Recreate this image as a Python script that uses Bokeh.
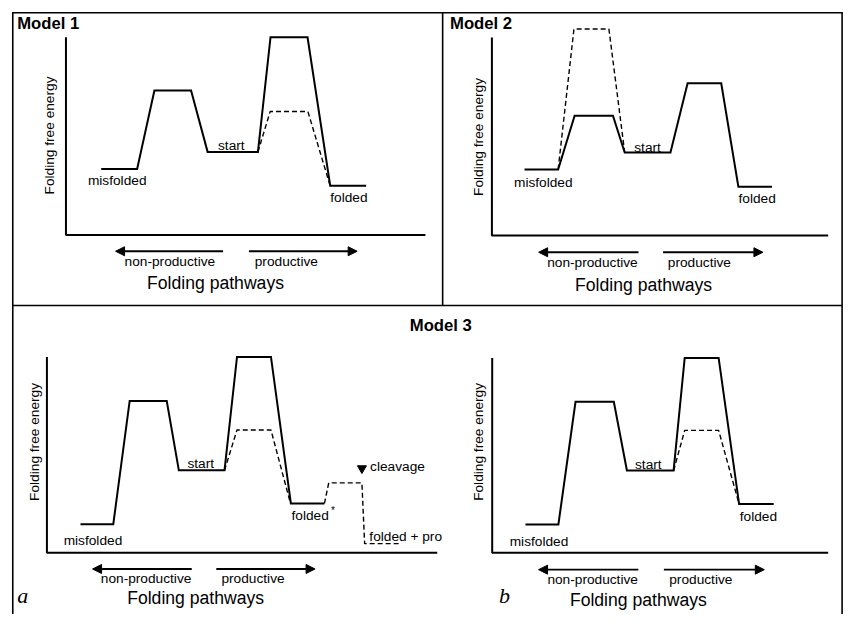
import math
from bokeh.plotting import figure
from bokeh.models import Range1d, Arrow, NormalHead
from bokeh.core.properties import value
from bokeh.embed import file_html
from bokeh.resources import INLINE

# ---------------- data: energy profiles (axis units: 0..100 on both axes) ----
# Model 1
m1_x      = [9.8, 19.8, 24.6, 34.8, 39.4, 53.4, 56.9, 67.2, 73.5, 83.5]
m1_solid  = [33.4, 33.4, 73.1, 73.1, 42.0, 42.0, 100.0, 100.0, 24.9, 24.9]
m1_dash_x = [53.4, 56.8, 67.3, 73.3]
m1_dash   = [42.0, 62.4, 62.4, 26.0]
# Model 2
m2_x      = [9.7, 19.7, 24.6, 36.0, 39.5, 53.1, 58.2, 68.2, 73.3, 83.3]
m2_solid  = [33.4, 33.4, 60.5, 60.5, 41.9, 41.9, 76.9, 76.9, 24.7, 24.7]
m2_dash_x = [19.7, 24.4, 34.8, 39.5]
m2_dash   = [33.4, 104.3, 104.3, 41.9]
# Model 3 (a)
m3a_x      = [8.6, 17.0, 21.2, 30.7, 33.8, 45.5, 48.7, 57.4, 62.5, 71.1]
m3a_solid  = [14.6, 14.6, 77.5, 77.5, 42.1, 42.1, 100.0, 100.0, 25.2, 25.2]
m3a_dash_x = [45.5, 48.7, 57.4, 62.3]
m3a_dash   = [42.1, 62.7, 62.7, 26.0]
m3a_pro_x  = [71.1, 72.2, 80.7, 81.4, 90.4]
m3a_pro    = [25.2, 35.7, 35.7, 4.7, 4.7]
# Model 3 (b)
m3b_x      = [9.9, 19.7, 24.8, 36.2, 40.1, 54.0, 57.3, 67.4, 73.5, 83.8]
m3b_solid  = [14.5, 14.5, 77.5, 77.5, 42.2, 42.2, 100.0, 100.0, 25.0, 25.0]
m3b_dash_x = [54.0, 57.3, 67.4, 73.5]
m3b_dash   = [42.2, 62.8, 62.8, 25.0]

state_labels = ["misfolded", "start", "folded"]
dir_labels = ["non-productive", "productive"]
x_title = "Folding pathways"
y_title = "Folding free energy"
model_titles = ["Model 1", "Model 2", "Model 3"]
panel_letters = ["a", "b"]

# ---------------- page / layout ----------------
W, H = 846, 614
# the frame shows the reference sheet (862 x 630 units), slightly scaled
X0, X1, Y0, Y1 = 0.0, 862.0, 0.0, 630.0
SANS = value("Liberation Sans")
FS = 13.7          # label font size
BL = 0.27          # baseline correction (fraction of font size)

p = figure(width=W, height=H, x_range=Range1d(X0, X1), y_range=Range1d(Y1, Y0),
           x_axis_type=None, y_axis_type=None, toolbar_location=None,
           output_backend="svg", min_border=0, outline_line_color=None,
           background_fill_color="white", border_fill_color="white")
p.grid.visible = False

# panel frames (sheet coordinates)
p.multi_line(xs=[[12, 858], [12.5, 12.5], [857.5, 857.5], [450.5, 450.5], [12, 858]],
             ys=[[12.5, 12.5], [12, 640], [12, 640], [12, 313], [313, 313]],
             line_color="black", line_width=1.6)

p.text(x=[17, 458, 417], y=[28 - BL * 17, 28 - BL * 17, 338 - BL * 17], text=model_titles,
       text_font=SANS, text_font_style="bold", text_font_size=value("16.7px"),
       text_baseline="alphabetic", text_align="left", text_color="black")
p.text(x=[17, 508], y=[616 - BL * 22, 616 - BL * 22], text=panel_letters,
       text_font=value("Liberation Serif"), text_font_style="italic",
       text_font_size=value("22px"), text_baseline="alphabetic", text_color="black")

panels = [
    dict(name="m1", xs=m1_x, ys=m1_solid, dashes=[(m1_dash_x, m1_dash)],
         ox=66.7, oy=240.5, lx=366.3, ly=202.8,
         arrows=(43.7, 13.8, 50.9, 81.0), ady=16.8, np_c=28.9, pr_c=61.3, ldy=31.2,
         fp_c=41.6, fpdy=54.5, yldx=16.7, ylmid=50.3,
         offs=[(-2, 16), (-1.5, -2.5), (0.7, 16)]),
    dict(name="m2", xs=m2_x, ys=m2_solid, dashes=[(m2_dash_x, m2_dash)],
         ox=500.7, oy=241.2, lx=342.6, ly=203.2,
         arrows=(43.6, 13.9, 50.9, 80.6), ady=17.1, np_c=29.9, pr_c=61.7, ldy=31.8,
         fp_c=45.1, fpdy=55.5, yldx=14.0, ylmid=49.8,
         offs=[(2, 16.7), (0, -2), (2, 16)]),
    dict(name="m3a", xs=m3a_x, ys=m3a_solid,
         dashes=[(m3a_dash_x, m3a_dash), (m3a_pro_x, m3a_pro)],
         ox=47.3, oy=566.7, lx=397.7, ly=201.0,
         arrows=(37.1, 11.7, 43.4, 68.7), ady=16.6, np_c=25.4, pr_c=52.8, ldy=30.0,
         fp_c=38.1, fpdy=51.6, yldx=12.3, ylmid=56.6,
         offs=[(-4, 20), (-1, -3), (2.5, 16)]),
    dict(name="m3b", xs=m3b_x, ys=m3b_solid, dashes=[(m3b_dash_x, m3b_dash)],
         ox=501.0, oy=566.7, lx=342.3, ly=200.0,
         arrows=(43.5, 13.8, 51.1, 81.0), ady=17.3, np_c=29.9, pr_c=62.1, ldy=31.0,
         fp_c=43.5, fpdy=53.3, yldx=14.3, ylmid=56.9,
         offs=[(-3, 20.6), (-2, -2.3), (2, 16)]),
]

for g in panels:
    n = g["name"]
    sx, sy = g["lx"] / 100.0, g["ly"] / 100.0
    p.extra_x_ranges[n] = Range1d((X0 - g["ox"]) / sx, (X1 - g["ox"]) / sx)
    p.extra_y_ranges[n] = Range1d((g["oy"] - Y1) / sy, (g["oy"] - Y0) / sy)
    kw = dict(x_range_name=n, y_range_name=n)

    # axes (L-shape)
    p.line([0, 0, 100], [100, 0, 0], line_color="black", line_width=2, **kw)
    # energy profile
    p.line(g["xs"], g["ys"], line_color="black", line_width=2, line_join="miter", **kw)
    for dx_, dy_ in g["dashes"]:
        p.line(dx_, dy_, line_color="black", line_width=1.4, line_dash="5 3", **kw)

    # state labels anchored to plateaus
    xs, ys = g["xs"], g["ys"]
    anchors = [((xs[0] + xs[1]) / 2, ys[0]), ((xs[4] + xs[5]) / 2, ys[4]),
               ((xs[8] + xs[9]) / 2, ys[8])]
    lx_ = [a[0] + o[0] / sx for a, o in zip(anchors, g["offs"])]
    ly_ = [a[1] - (o[1] - BL * FS) / sy for a, o in zip(anchors, g["offs"])]
    p.text(x=lx_, y=ly_, text=state_labels, text_font=SANS,
           text_font_size=value(f"{FS}px"), text_align="center",
           text_baseline="alphabetic", text_color="black", **kw)

    # y axis title
    p.text(x=[-g["yldx"] / sx], y=[g["ylmid"]], text=[y_title], angle=math.pi / 2,
           text_font=SANS, text_font_size=value(f"{FS}px"), text_align="center",
           text_baseline="middle", text_color="black", **kw)

    # direction arrows and labels
    lt, lh, rt, rh = g["arrows"]
    ay = -g["ady"] / sy
    for t, h in ((lt, lh), (rt, rh)):
        p.add_layout(Arrow(end=NormalHead(size=9, fill_color="black", line_color="black",
                                          line_width=1),
                           x_start=t, y_start=ay, x_end=h, y_end=ay,
                           line_color="black", line_width=1.8, **kw))
    p.text(x=[g["np_c"], g["pr_c"]], y=[-(g["ldy"] - BL * FS) / sy] * 2, text=dir_labels,
           text_font=SANS, text_font_size=value(f"{FS}px"), text_align="center",
           text_baseline="alphabetic", text_color="black", **kw)
    p.text(x=[g["fp_c"]], y=[-(g["fpdy"] - BL * 17.6) / sy], text=[x_title],
           text_font=SANS, text_font_size=value("17.6px"), text_align="center",
           text_baseline="alphabetic", text_color="black", **kw)

# Model 3a extras: cleavage marker and labels
kw3 = dict(x_range_name="m3a", y_range_name="m3a")
sy3 = 2.01
p.scatter(x=[80.7], y=[43.1], marker="inverted_triangle", size=9,
          fill_color="black", line_color="black", **kw3)
p.text(x=[82.8, 82.6], y=[42.3 + BL * FS / sy3, 6.7 + BL * FS / sy3],
       text=["cleavage", "folded + pro"],
       text_font=SANS, text_font_size=value(f"{FS}px"), text_align="left",
       text_baseline="alphabetic", text_color="black", **kw3)
p.text(x=[72.8], y=[20.5 + BL * 10 / sy3], text=["*"], text_font=SANS,
       text_font_size=value("10px"), text_align="left", text_baseline="alphabetic",
       text_color="black", **kw3)

open("out.html", "w").write(file_html(p, INLINE))
